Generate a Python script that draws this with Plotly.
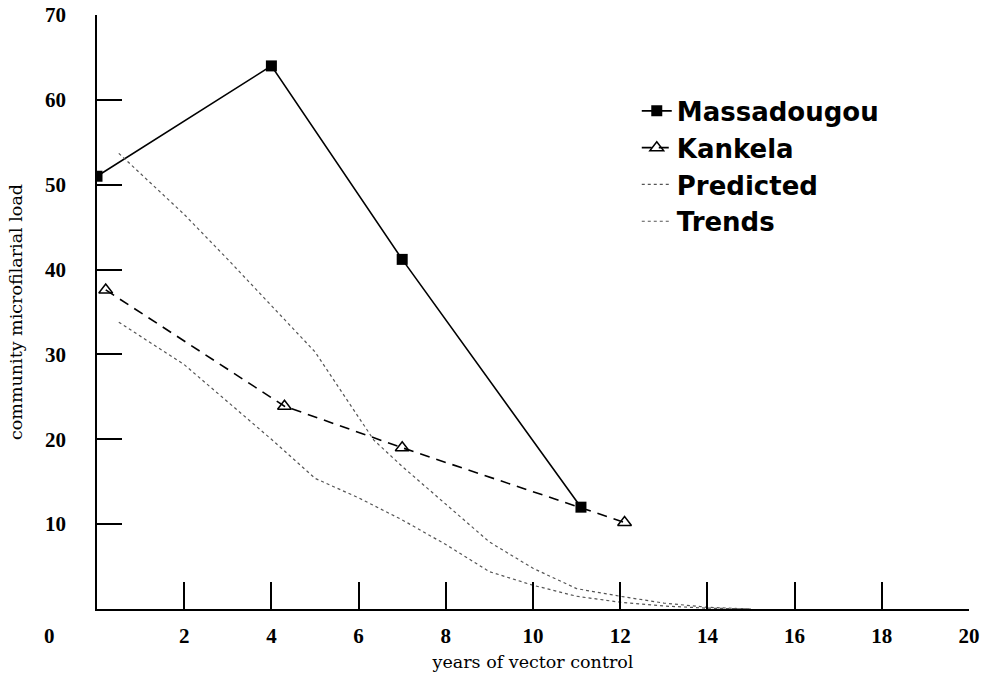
import plotly.graph_objects as go

# Data
mass_x = [0, 4, 7, 11.1]
mass_y = [51, 64, 41.2, 12]

kank_x = [0.2, 4.3, 7.0, 12.1]
kank_y = [37.6, 23.9, 19.0, 10.2]

pred_x = [0.5, 2, 3, 4, 5, 6, 6.35, 7, 8, 9, 10, 11, 12, 13, 14, 15]
pred_y = [53.7, 46.5, 41.2, 35.8, 30.3, 22.6, 19.9, 16.8, 12.3, 7.9, 4.8, 2.4, 1.5, 0.7, 0.2, 0.0]

trend_x = [0.5, 2, 3, 4, 5, 6, 7, 8, 9, 10, 11, 12, 13, 14, 15]
trend_y = [33.8, 28.8, 24.4, 20.0, 15.4, 13.1, 10.5, 7.6, 4.4, 2.8, 1.5, 0.8, 0.35, 0.1, 0.0]

x_ticks = [2, 4, 6, 8, 10, 12, 14, 16, 18, 20]
y_ticks = [10, 20, 30, 40, 50, 60, 70]

fig = go.Figure()
fig.add_trace(go.Scatter(
    x=mass_x, y=mass_y, name="Massadougou", mode="lines+markers",
    line=dict(color="black", width=1.6),
    marker=dict(symbol="square", size=11, color="black"),
))
fig.add_trace(go.Scatter(
    x=kank_x, y=kank_y, name="Kankela", mode="lines+markers",
    line=dict(color="black", width=1.6, dash="10px,7px"),
    marker=dict(symbol="triangle-up-open", size=12, color="black", line=dict(width=1.5)),
))
fig.add_trace(go.Scatter(
    x=pred_x, y=pred_y, name="Predicted", mode="lines",
    line=dict(color="#555555", width=1.2, dash="dot"),
))
fig.add_trace(go.Scatter(
    x=trend_x, y=trend_y, name="Trends", mode="lines",
    line=dict(color="#555555", width=1.2, dash="dot"),
))

tickfont = dict(family="Liberation Serif", size=21, color="black", weight="bold")
titlefont = dict(family="DejaVu Serif", size=17.5, color="black")

fig.update_layout(
    width=984, height=677,
    margin=dict(l=97, r=15, t=15, b=68),
    paper_bgcolor="white", plot_bgcolor="white",
    showlegend=True,
    legend=dict(
        x=0.619, y=0.878, xanchor="left", yanchor="top",
        bgcolor="rgba(0,0,0,0)",
        font=dict(family="DejaVu Sans", size=26, color="black", weight="bold"),
        tracegroupgap=0,
    ),
    xaxis=dict(
        range=[0, 20], showgrid=False, zeroline=False, automargin=False,
        showline=True, linecolor="black", linewidth=1.8,
        ticks="inside", ticklen=27, tickwidth=1.5, tickcolor="black",
        tickvals=x_ticks, ticktext=[str(v) for v in x_ticks],
        tickfont=tickfont, ticklabelstandoff=7,
        title=dict(text="years of vector control", font=titlefont, standoff=9),
    ),
    yaxis=dict(
        range=[0, 70], showgrid=False, zeroline=False, automargin=False,
        showline=True, linecolor="black", linewidth=1.8,
        ticks="inside", ticklen=25, tickwidth=1.5, tickcolor="black",
        tickvals=y_ticks, ticktext=[str(v) for v in y_ticks],
        tickfont=tickfont, ticklabelstandoff=25,
        title=dict(text="community microfilarial load", font=titlefont, standoff=18),
    ),
    annotations=[dict(
        text="0", x=-0.054, y=-0.045, xref="paper", yref="paper",
        xanchor="center", yanchor="middle", showarrow=False,
        font=tickfont,
    )],
)

fig.write_html(
    "out.html",
    config={"displayModeBar": False},
    post_script="document.body.style.margin='0';document.body.style.overflow='hidden';",
)
